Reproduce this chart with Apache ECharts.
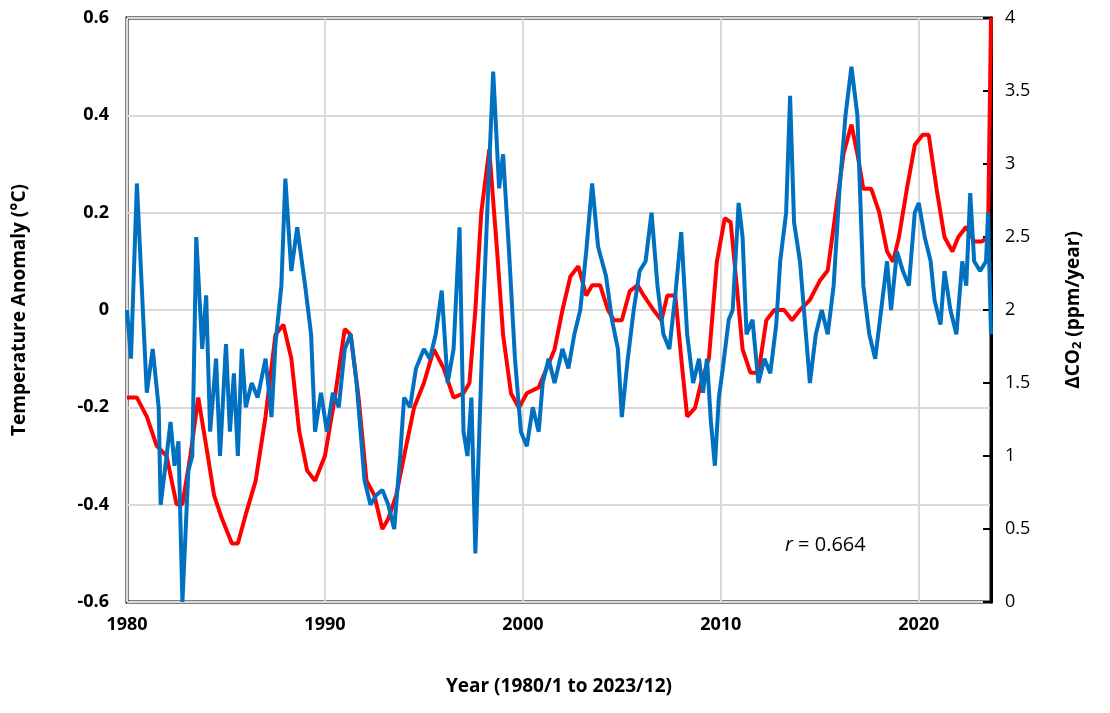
<!DOCTYPE html>
<html lang="en">
<head>
    <meta charset="UTF-8">
    <title>Temperature anomaly vs CO2 growth</title>
    <script src="https://cdn.jsdelivr.net/npm/echarts@6/dist/echarts.min.js"></script>
</head>
<body style="margin:0">
<div id="main" style="width: 1110px;height: 713px;"></div>

<script type="text/javascript">
    // temperature anomaly (°C), [year, value]
    var tempData = [
        [1980.0,0.0],[1980.2,-0.1],[1980.5,0.26],[1980.8,0.0],[1981.0,-0.17],[1981.3,-0.08],[1981.6,-0.2],[1981.7,-0.4],
        [1982.0,-0.3],[1982.2,-0.23],[1982.4,-0.32],[1982.6,-0.27],[1982.8,-0.6],[1983.1,-0.33],[1983.3,-0.3],[1983.5,0.15],
        [1983.8,-0.08],[1984.0,0.03],[1984.2,-0.25],[1984.5,-0.1],[1984.7,-0.3],[1985.0,-0.07],[1985.2,-0.25],[1985.4,-0.13],
        [1985.6,-0.3],[1985.8,-0.08],[1986.0,-0.2],[1986.3,-0.15],[1986.6,-0.18],[1987.0,-0.1],[1987.3,-0.22],[1987.5,-0.07],
        [1987.8,0.05],[1988.0,0.27],[1988.3,0.08],[1988.6,0.17],[1989.0,0.05],[1989.3,-0.05],[1989.5,-0.25],[1989.8,-0.17],
        [1990.1,-0.25],[1990.4,-0.17],[1990.7,-0.2],[1991.0,-0.08],[1991.3,-0.05],[1991.6,-0.15],[1992.0,-0.35],[1992.3,-0.4],
        [1992.6,-0.38],[1992.9,-0.37],[1993.2,-0.4],[1993.5,-0.45],[1993.8,-0.3],[1994.0,-0.18],[1994.3,-0.2],[1994.6,-0.12],
        [1995.0,-0.08],[1995.3,-0.1],[1995.6,-0.05],[1995.9,0.04],[1996.2,-0.15],[1996.5,-0.08],[1996.8,0.17],[1997.0,-0.25],
        [1997.2,-0.3],[1997.4,-0.18],[1997.6,-0.5],[1997.8,-0.25],[1998.0,0.0],[1998.2,0.2],[1998.5,0.49],[1998.8,0.25],
        [1999.0,0.32],[1999.3,0.12],[1999.6,-0.1],[1999.9,-0.25],[2000.2,-0.28],[2000.5,-0.2],[2000.8,-0.25],[2001.0,-0.15],
        [2001.3,-0.1],[2001.6,-0.15],[2002.0,-0.08],[2002.3,-0.12],[2002.6,-0.05],[2002.9,0.0],[2003.2,0.12],[2003.5,0.26],
        [2003.8,0.13],[2004.2,0.07],[2004.5,-0.02],[2004.8,-0.08],[2005.0,-0.22],[2005.3,-0.1],[2005.6,0.0],[2005.9,0.08],
        [2006.2,0.1],[2006.5,0.2],[2006.8,0.05],[2007.1,-0.05],[2007.4,-0.08],[2007.7,0.03],[2008.0,0.16],[2008.3,-0.05],
        [2008.6,-0.15],[2008.9,-0.1],[2009.1,-0.17],[2009.3,-0.1],[2009.5,-0.23],[2009.7,-0.32],[2009.9,-0.18],[2010.1,-0.12],
        [2010.4,-0.02],[2010.6,0.0],[2010.9,0.22],[2011.1,0.15],[2011.3,-0.05],[2011.6,-0.02],[2011.9,-0.15],[2012.2,-0.1],
        [2012.5,-0.13],[2012.8,-0.03],[2013.0,0.1],[2013.3,0.2],[2013.5,0.44],[2013.7,0.18],[2014.0,0.1],[2014.3,-0.05],
        [2014.5,-0.15],[2014.8,-0.05],[2015.1,0.0],[2015.4,-0.05],[2015.7,0.05],[2016.0,0.25],[2016.3,0.4],[2016.6,0.5],
        [2016.9,0.4],[2017.2,0.05],[2017.5,-0.05],[2017.8,-0.1],[2018.1,0.0],[2018.4,0.1],[2018.6,0.0],[2018.9,0.12],
        [2019.2,0.08],[2019.5,0.05],[2019.8,0.2],[2020.0,0.22],[2020.3,0.15],[2020.6,0.1],[2020.8,0.02],[2021.1,-0.03],
        [2021.3,0.08],[2021.6,0.0],[2021.9,-0.05],[2022.2,0.1],[2022.4,0.05],[2022.6,0.24],[2022.8,0.1],[2023.1,0.08],
        [2023.4,0.1],[2023.5,0.2],[2023.65,-0.05]
    ];

    // CO2 growth rate (ppm/year), [year, value]
    var co2Data = [
        [1980.0,1.4],[1980.5,1.4],[1981.0,1.27],[1981.5,1.07],[1982.0,1.0],[1982.5,0.67],[1982.8,0.67],[1983.2,1.0],
        [1983.6,1.4],[1984.0,1.07],[1984.4,0.73],[1984.8,0.57],[1985.3,0.4],[1985.6,0.4],[1986.0,0.6],[1986.5,0.83],
        [1987.0,1.27],[1987.5,1.83],[1987.9,1.9],[1988.3,1.67],[1988.7,1.17],[1989.1,0.9],[1989.5,0.83],[1990.0,1.0],
        [1990.5,1.4],[1991.0,1.87],[1991.3,1.83],[1991.7,1.4],[1992.1,0.83],[1992.5,0.73],[1992.9,0.5],[1993.2,0.57],
        [1993.6,0.73],[1994.0,1.0],[1994.5,1.33],[1995.0,1.5],[1995.5,1.73],[1996.0,1.6],[1996.5,1.4],[1997.0,1.43],
        [1997.3,1.5],[1997.6,2.0],[1997.9,2.67],[1998.3,3.1],[1998.7,2.4],[1999.0,1.83],[1999.4,1.43],[1999.8,1.33],
        [2000.2,1.43],[2000.8,1.47],[2001.2,1.6],[2001.6,1.73],[2002.0,2.0],[2002.4,2.23],[2002.8,2.3],[2003.2,2.1],
        [2003.5,2.17],[2003.9,2.17],[2004.3,2.0],[2004.6,1.93],[2005.0,1.93],[2005.4,2.13],[2005.8,2.17],[2006.1,2.1],
        [2006.6,2.0],[2007.0,1.93],[2007.3,2.1],[2007.7,2.1],[2008.0,1.67],[2008.3,1.27],[2008.7,1.33],[2009.0,1.5],
        [2009.4,1.67],[2009.8,2.33],[2010.2,2.63],[2010.5,2.6],[2010.8,2.17],[2011.1,1.73],[2011.5,1.57],[2011.9,1.57],
        [2012.3,1.93],[2012.7,2.0],[2013.2,2.0],[2013.6,1.93],[2014.0,2.0],[2014.5,2.07],[2015.0,2.2],[2015.4,2.27],
        [2015.8,2.67],[2016.2,3.07],[2016.6,3.27],[2016.9,3.07],[2017.2,2.83],[2017.6,2.83],[2018.0,2.67],[2018.4,2.4],
        [2018.7,2.33],[2019.0,2.5],[2019.4,2.83],[2019.8,3.13],[2020.2,3.2],[2020.5,3.2],[2020.9,2.83],[2021.3,2.5],
        [2021.7,2.4],[2022.0,2.5],[2022.4,2.57],[2022.8,2.47],[2023.2,2.47],[2023.5,2.5],[2023.65,4.0]
    ];

    var yearTicks = [1980, 1990, 2000, 2010, 2020];

    var myChart = echarts.init(document.getElementById('main'));
    var font = '"Open Sans", "Liberation Sans", sans-serif';

    var option = {
        animation: false,
        textStyle: {fontFamily: font},
        grid: {left: 127, right: 119, top: 18, bottom: 111, show: true, borderColor: '#000', borderWidth: 3},
        xAxis: {
            type: 'value', min: 1980, max: 2023.65, interval: 10,
            name: 'Year (1980/1 to 2023/12)', nameLocation: 'middle', nameGap: 75,
            nameTextStyle: {fontSize: 19, fontWeight: 'bold', color: '#000'},
            axisLine: {show: false}, axisTick: {show: false},
            axisLabel: {fontSize: 18, fontWeight: 'bold', color: '#000', margin: 14, showMaxLabel: false,
                formatter: function (v) { return yearTicks.indexOf(v) >= 0 ? v : ''; }},
            splitLine: {lineStyle: {color: '#d9d9d9', width: 2}}
        },
        yAxis: [{
            type: 'value', min: -0.6, max: 0.6, interval: 0.2,
            name: 'Temperature Anomaly (°C)', nameLocation: 'middle', nameGap: 98, nameRotate: 90,
            nameTextStyle: {fontSize: 19, fontWeight: 'bold', color: '#000'},
            axisLine: {show: false}, axisTick: {show: false},
            axisLabel: {fontSize: 18, fontWeight: 'bold', color: '#000', margin: 18,
                formatter: function (v) { return Math.abs(v) < 1e-9 ? '0' : v.toFixed(1); }},
            splitLine: {lineStyle: {color: '#d9d9d9', width: 2}}
        }, {
            type: 'value', min: 0, max: 4, interval: 0.5, position: 'right',
            name: '{a|ΔCO}{s|2}{a| (ppm/year)}', nameLocation: 'middle', nameGap: 72, nameRotate: 90,
            nameTextStyle: {rich: {
                a: {fontSize: 19, fontWeight: 'bold', color: '#000', fontFamily: font},
                s: {fontSize: 13, fontWeight: 'bold', color: '#000', fontFamily: font, verticalAlign: 'bottom', padding: [8, 0, 0, 0]}
            }},
            axisLine: {show: true, lineStyle: {color: '#000', width: 3}},
            axisTick: {show: true, inside: true, length: 8, lineStyle: {color: '#000', width: 2}},
            axisLabel: {fontSize: 18, color: '#000', margin: 14},
            splitLine: {show: false}
        }],
        series: [{
            name: 'CO2', type: 'line', yAxisIndex: 1, data: co2Data, showSymbol: false,
            lineStyle: {color: '#ff0000', width: 4}, clip: false, z: 2
        }, {
            name: 'Temp', type: 'line', yAxisIndex: 0, data: tempData, showSymbol: false,
            lineStyle: {color: '#0070c0', width: 4}, clip: false, z: 3
        }],
        graphic: [{
            type: 'text', left: 785, top: 535,
            style: {
                text: '{i|r} = 0.664',
                rich: {i: {fontStyle: 'italic', fontSize: 20, fontFamily: font, fill: '#000'}},
                fontSize: 20, fontFamily: font, fill: '#000'
            }
        }]
    };

    myChart.setOption(option);
</script>
</body>
</html>
